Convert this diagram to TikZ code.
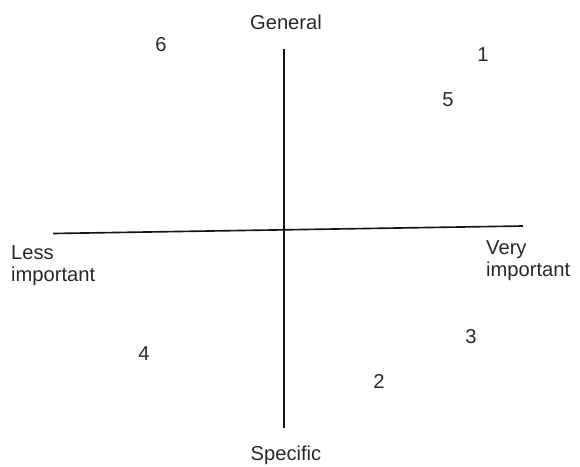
\documentclass[tikz,border=0pt]{standalone}
\usepackage{fontspec}
\setmainfont{Liberation Sans}
\usepackage{tikz}
\usetikzlibrary{positioning}
\definecolor{AxisGrey}{RGB}{20, 20, 20}
\definecolor{TextGrey}{RGB}{40, 40, 40}

\begin{document}
\begin{tikzpicture}[x=0.03cm, y=-0.03cm, every node/.style={font=\fontsize{17.2}{19}\selectfont, text=TextGrey, inner sep=0pt}]
                \useasboundingbox (0, 0) rectangle (580, 466);
                % Axes
                \coordinate (gen end) at (284, 49);
                \coordinate (spec end) at (284, 428);
                \coordinate (less end) at (53, 233.5);
                \coordinate (very end) at (523, 226);
                \draw[AxisGrey, line width=1.4pt] (gen end) -- (spec end);
                \draw[AxisGrey, line width=1.4pt] (less end) -- (very end);

                % Axis labels
                \node (general) at (286, 22) {General};
                \node (specific) at (286, 455) {Specific};
                \node[anchor=west, align=left] (less) at (11, 266) {Less\\important};
                \node[anchor=west, align=left] (very) at (486, 261) {Very\\important};

                % Items
                \node (i1) at (483, 55) {1};
                \node (i2) at (379, 381) {2};
                \node (i3) at (471, 337) {3};
                \node (i4) at (144, 354) {4};
                \node (i5) at (448, 100) {5};
                \node (i6) at (161, 45) {6};
            \end{tikzpicture}
\end{document}
